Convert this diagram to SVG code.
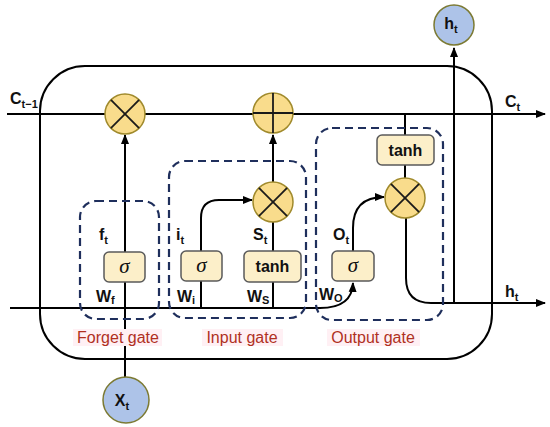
<svg xmlns="http://www.w3.org/2000/svg" width="550" height="427" viewBox="0 0 550 427">
<defs>
<marker id="arr" viewBox="0 0 10 10" refX="9" refY="5" markerWidth="5" markerHeight="5" orient="auto">
<path d="M0,1 L10,5 L0,9 z" fill="#000"/>
</marker>
<style>
.ln{fill:none;stroke:#000;stroke-width:2}
.dash{fill:none;stroke:#1f2f5c;stroke-width:2.2;stroke-dasharray:8 5}
.op{fill:#f9dc8c;stroke:#a08a2c;stroke-width:1.5}
.opx{stroke:#1a1a1a;stroke-width:1.8}
.box{fill:#fcefc9;stroke:#5a5a5a;stroke-width:1.5}
.io{fill:#adc3e8;stroke:#7c7a33;stroke-width:1.5}
.t{font-family:"Liberation Sans",Arial,sans-serif;font-weight:bold;fill:#111;font-size:16px}
.s{font-size:11px}
.g{font-family:"Liberation Sans",Arial,sans-serif;fill:#b0301f;font-size:16px}
.hl{fill:#fff0f4}
.sig{font-family:"Liberation Serif","Times New Roman",serif;font-style:italic;font-size:21px;fill:#111}
</style>
</defs>
<rect x="40" y="66" width="452" height="293" rx="45" class="ln"/>
<g id="connectors">
<line x1="7" y1="114" x2="545" y2="114" class="ln" marker-end="url(#arr)"/>
<line x1="10" y1="308" x2="320" y2="308" class="ln"/>
<path d="M320 308 Q352 308 353 283" class="ln" marker-end="url(#arr)"/>
<line x1="125" y1="377" x2="125" y2="135" class="ln" marker-end="url(#arr)"/>
<line x1="201" y1="308" x2="201" y2="281" class="ln"/>
<path d="M201 251 V218 Q201 200 219 200 H252" class="ln" marker-end="url(#arr)"/>
<line x1="273" y1="308" x2="273" y2="282" class="ln"/>
<line x1="273" y1="251" x2="273" y2="222" class="ln"/>
<line x1="273" y1="182" x2="273" y2="135" class="ln" marker-end="url(#arr)"/>
<path d="M353 251 V228 Q353 197 384 197" class="ln" marker-end="url(#arr)"/>
<line x1="405" y1="114" x2="405" y2="135" class="ln"/>
<line x1="405" y1="165" x2="405" y2="178" class="ln"/>
<path d="M406 218 V278 Q406 303 431 303 H545" class="ln" marker-end="url(#arr)"/>
<line x1="454" y1="303" x2="454" y2="48" class="ln" marker-end="url(#arr)"/>
</g>
<g id="forget-gate">
<rect x="80" y="201" width="79" height="118" rx="16" class="dash"/>
<rect x="73" y="329" width="89" height="17" class="hl"/>
<text x="118" y="343" text-anchor="middle" class="g">Forget gate</text>
</g>
<g id="input-gate">
<rect x="169" y="161" width="137" height="157" rx="16" class="dash"/>
<rect x="202" y="329" width="81" height="17" class="hl"/>
<text x="242" y="343" text-anchor="middle" class="g">Input gate</text>
</g>
<g id="output-gate">
<rect x="316" y="128" width="127" height="192" rx="16" class="dash"/>
<rect x="327" y="329" width="93" height="17" class="hl"/>
<text x="373" y="343" text-anchor="middle" class="g">Output gate</text>
</g>
<g id="mul-forget">
<circle cx="125" cy="114" r="20" class="op"/>
<line x1="110.9" y1="99.9" x2="139.1" y2="128.1" class="opx"/>
<line x1="139.1" y1="99.9" x2="110.9" y2="128.1" class="opx"/>
</g>
<g id="add">
<circle cx="273" cy="113" r="20" class="op"/>
<line x1="253" y1="113" x2="293" y2="113" class="opx"/>
<line x1="273" y1="93" x2="273" y2="133" class="opx"/>
</g>
<g id="mul-input">
<circle cx="273" cy="202" r="20" class="op"/>
<line x1="258.9" y1="187.9" x2="287.1" y2="216.1" class="opx"/>
<line x1="287.1" y1="187.9" x2="258.9" y2="216.1" class="opx"/>
</g>
<g id="mul-output">
<circle cx="405" cy="198" r="20" class="op"/>
<line x1="390.9" y1="183.9" x2="419.1" y2="212.1" class="opx"/>
<line x1="419.1" y1="183.9" x2="390.9" y2="212.1" class="opx"/>
</g>
<g id="sigma-f">
<rect x="104" y="252" width="41" height="30" rx="5" class="box"/>
<text x="124.5" y="273" text-anchor="middle" class="sig">σ</text>
</g>
<g id="sigma-i">
<rect x="181" y="251" width="41" height="30" rx="5" class="box"/>
<text x="201.5" y="272" text-anchor="middle" class="sig">σ</text>
</g>
<g id="tanh-i">
<rect x="244" y="251" width="57" height="31" rx="5" class="box"/>
<text x="272.5" y="272" text-anchor="middle" class="t">tanh</text>
</g>
<g id="sigma-o">
<rect x="332" y="251" width="42" height="30" rx="5" class="box"/>
<text x="353" y="272" text-anchor="middle" class="sig">σ</text>
</g>
<g id="tanh-o">
<rect x="377" y="135" width="57" height="30" rx="5" class="box"/>
<text x="405.5" y="156" text-anchor="middle" class="t">tanh</text>
</g>
<g id="xt">
<circle cx="126" cy="400" r="23" class="io"/>
<text x="122" y="406" text-anchor="middle" class="t">X<tspan class="s" dy="4">t</tspan></text>
</g>
<g id="ht-out">
<circle cx="454" cy="25" r="20" class="io"/>
<text x="451" y="29" text-anchor="middle" class="t">h<tspan class="s" dy="4">t</tspan></text>
</g>
<g id="labels">
<text x="10" y="104" class="t">C<tspan class="s" dy="4">t−1</tspan></text>
<text x="505" y="107" class="t">C<tspan class="s" dy="4">t</tspan></text>
<text x="505" y="297" class="t">h<tspan class="s" dy="4">t</tspan></text>
<text x="99" y="240" class="t">f<tspan class="s" dy="4">t</tspan></text>
<text x="176" y="240" class="t">i<tspan class="s" dy="4">t</tspan></text>
<text x="253" y="240" class="t">S<tspan class="s" dy="4">t</tspan></text>
<text x="333" y="240" class="t">O<tspan class="s" dy="4">t</tspan></text>
<text x="96" y="302" class="t">W<tspan class="s" dy="2">f</tspan></text>
<text x="177" y="302" class="t">W<tspan class="s" dy="2">i</tspan></text>
<text x="247" y="302" class="t">W<tspan class="s" dy="2">S</tspan></text>
<text x="319" y="300" class="t">W<tspan class="s" dy="2">O</tspan></text>
</g>
</svg>
